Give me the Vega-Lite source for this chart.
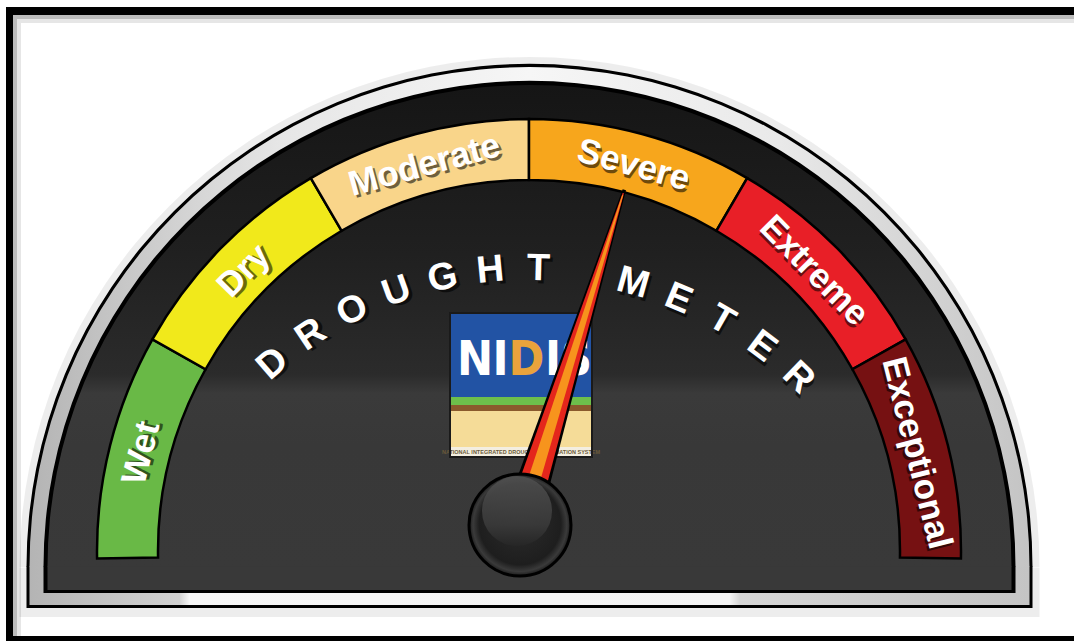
{
  "$schema": "https://vega.github.io/schema/vega-lite/v6.json",
  "width": 1074,
  "height": 641,
  "autosize": {"type": "fit", "contains": "padding"},
  "padding": 0,
  "background": "#ffffff",
  "config": {"view": {"stroke": null}},
  "datasets": {
    "bands": [
      {"category": "Wet", "start": 0, "end": 1, "mid": 0.5},
      {"category": "Dry", "start": 1, "end": 2, "mid": 1.5},
      {"category": "Moderate", "start": 2, "end": 3, "mid": 2.5},
      {"category": "Severe", "start": 3, "end": 4, "mid": 3.5},
      {"category": "Extreme", "start": 4, "end": 5, "mid": 4.5},
      {"category": "Exceptional", "start": 5, "end": 6, "mid": 5.5}
    ],
    "letters": [
      {"ch": "D", "i": 0}, {"ch": "R", "i": 1}, {"ch": "O", "i": 2}, {"ch": "U", "i": 3},
      {"ch": "G", "i": 4}, {"ch": "H", "i": 5}, {"ch": "T", "i": 6},
      {"ch": "M", "i": 8}, {"ch": "E", "i": 9}, {"ch": "T", "i": 10}, {"ch": "E", "i": 11}, {"ch": "R", "i": 12}
    ],
    "needle": [{"reading": 3.57}],
    "one": [{}]
  },
  "resolve": {"scale": {"theta": "independent", "angle": "independent"}},
  "layer": [
    {
      "data": {"name": "one"},
      "mark": {"type": "rect", "fill": "#bcbcbc"},
      "encoding": {
        "x": {"datum": -516, "scale": {"domain": [-529, 545], "nice": false, "zero": false}, "axis": null},
        "x2": {"datum": 545},
        "y": {"datum": 536, "scale": {"domain": [-90, 551], "nice": false, "zero": false}, "axis": null},
        "y2": {"datum": 532}
      }
    },
    {
      "data": {"name": "one"},
      "mark": {"type": "rect", "fill": "#e6e6e6"},
      "encoding": {
        "x": {"datum": -512, "scale": {"domain": [-529, 545], "nice": false, "zero": false}, "axis": null},
        "x2": {"datum": 545},
        "y": {"datum": 532, "scale": {"domain": [-90, 551], "nice": false, "zero": false}, "axis": null},
        "y2": {"datum": 528}
      }
    },
    {
      "data": {"name": "one"},
      "mark": {"type": "rect", "fill": "#bcbcbc"},
      "encoding": {
        "x": {"datum": -516, "scale": {"domain": [-529, 545], "nice": false, "zero": false}, "axis": null},
        "x2": {"datum": -512},
        "y": {"datum": 536, "scale": {"domain": [-90, 551], "nice": false, "zero": false}, "axis": null},
        "y2": {"datum": -85}
      }
    },
    {
      "data": {"name": "one"},
      "mark": {"type": "rect", "fill": "#e6e6e6"},
      "encoding": {
        "x": {"datum": -512, "scale": {"domain": [-529, 545], "nice": false, "zero": false}, "axis": null},
        "x2": {"datum": -508},
        "y": {"datum": 532, "scale": {"domain": [-90, 551], "nice": false, "zero": false}, "axis": null},
        "y2": {"datum": -85}
      }
    },
    {
      "data": {"name": "one"},
      "mark": {"type": "rect", "fill": "#000000"},
      "encoding": {
        "x": {"datum": -523, "scale": {"domain": [-529, 545], "nice": false, "zero": false}, "axis": null},
        "x2": {"datum": 545},
        "y": {"datum": 544, "scale": {"domain": [-90, 551], "nice": false, "zero": false}, "axis": null},
        "y2": {"datum": 536}
      }
    },
    {
      "data": {"name": "one"},
      "mark": {"type": "rect", "fill": "#000000"},
      "encoding": {
        "x": {"datum": -523, "scale": {"domain": [-529, 545], "nice": false, "zero": false}, "axis": null},
        "x2": {"datum": -516},
        "y": {"datum": 544, "scale": {"domain": [-90, 551], "nice": false, "zero": false}, "axis": null},
        "y2": {"datum": -90}
      }
    },
    {
      "data": {"name": "one"},
      "mark": {"type": "rect", "fill": "#000000"},
      "encoding": {
        "x": {"datum": -523, "scale": {"domain": [-529, 545], "nice": false, "zero": false}, "axis": null},
        "x2": {"datum": 545},
        "y": {"datum": -85, "scale": {"domain": [-90, 551], "nice": false, "zero": false}, "axis": null},
        "y2": {"datum": -90}
      }
    },
    {
      "data": {"name": "one"},
      "mark": {"type": "arc", "theta": -1.5708, "theta2": 1.5708, "outerRadius": 510, "innerRadius": 0, "fill": "#000000", "opacity": 0.07},
      "encoding": {
        "x": {"datum": 0.5, "scale": {"domain": [-529, 545], "nice": false, "zero": false}, "axis": null},
        "y": {"datum": -16, "scale": {"domain": [-90, 551], "nice": false, "zero": false}, "axis": null}
      }
    },
    {
      "data": {"name": "one"},
      "mark": {"type": "rect", "fill": "#000000", "opacity": 0.07},
      "encoding": {
        "x": {"datum": -509.5, "scale": {"domain": [-529, 545], "nice": false, "zero": false}, "axis": null},
        "x2": {"datum": 510.5},
        "y": {"datum": -16.5, "scale": {"domain": [-90, 551], "nice": false, "zero": false}, "axis": null},
        "y2": {"datum": -66}
      }
    },
    {
      "data": {"name": "one"},
      "mark": {"type": "arc", "theta": -1.5708, "theta2": 1.5708, "outerRadius": 503, "innerRadius": 0, "fill": "#000000"},
      "encoding": {
        "x": {"datum": 0.5, "scale": {"domain": [-529, 545], "nice": false, "zero": false}, "axis": null},
        "y": {"datum": -16, "scale": {"domain": [-90, 551], "nice": false, "zero": false}, "axis": null}
      }
    },
    {
      "data": {"name": "one"},
      "mark": {"type": "rect", "fill": "#000000"},
      "encoding": {
        "x": {"datum": -502.5, "scale": {"domain": [-529, 545], "nice": false, "zero": false}, "axis": null},
        "x2": {"datum": 503.5},
        "y": {"datum": -15.5, "scale": {"domain": [-90, 551], "nice": false, "zero": false}, "axis": null},
        "y2": {"datum": -57}
      }
    },
    {
      "data": {"name": "one"},
      "mark": {"type": "arc", "theta": -1.5708, "theta2": 1.5708, "outerRadius": 500, "innerRadius": 0,
        "fill": {"gradient": "linear", "x1": 0, "y1": 0, "x2": 1, "y2": 0, "stops": [
          {"offset": 0, "color": "#b4b4b4"}, {"offset": 0.25, "color": "#e6e6e6"}, {"offset": 0.5, "color": "#f6f6f6"},
          {"offset": 0.75, "color": "#e9e9e9"}, {"offset": 1, "color": "#c4c4c4"}]}},
      "encoding": {
        "x": {"datum": 0.5, "scale": {"domain": [-529, 545], "nice": false, "zero": false}, "axis": null},
        "y": {"datum": -16, "scale": {"domain": [-90, 551], "nice": false, "zero": false}, "axis": null}
      }
    },
    {
      "data": {"name": "one"},
      "mark": {"type": "rect",
        "fill": {"gradient": "linear", "x1": 0, "y1": 0, "x2": 1, "y2": 0, "stops": [
          {"offset": 0, "color": "#b4b4b4"}, {"offset": 0.15, "color": "#d2d2d2"}, {"offset": 0.16, "color": "#f7f7f7"},
          {"offset": 0.7, "color": "#f4f4f4"}, {"offset": 0.71, "color": "#d6d6d6"}, {"offset": 1, "color": "#c4c4c4"}]}},
      "encoding": {
        "x": {"datum": -499.5, "scale": {"domain": [-529, 545], "nice": false, "zero": false}, "axis": null},
        "x2": {"datum": 500.5},
        "y": {"datum": -15.5, "scale": {"domain": [-90, 551], "nice": false, "zero": false}, "axis": null},
        "y2": {"datum": -54}
      }
    },
    {
      "data": {"name": "one"},
      "mark": {"type": "arc", "theta": -1.5708, "theta2": 1.5708, "outerRadius": 486, "innerRadius": 0, "fill": "#000000"},
      "encoding": {
        "x": {"datum": 0.5, "scale": {"domain": [-529, 545], "nice": false, "zero": false}, "axis": null},
        "y": {"datum": -16, "scale": {"domain": [-90, 551], "nice": false, "zero": false}, "axis": null}
      }
    },
    {
      "data": {"name": "one"},
      "mark": {"type": "rect", "fill": "#000000"},
      "encoding": {
        "x": {"datum": -485.5, "scale": {"domain": [-529, 545], "nice": false, "zero": false}, "axis": null},
        "x2": {"datum": 486.5},
        "y": {"datum": -15.5, "scale": {"domain": [-90, 551], "nice": false, "zero": false}, "axis": null},
        "y2": {"datum": -42}
      }
    },
    {
      "data": {"name": "one"},
      "mark": {"type": "arc", "theta": -1.5708, "theta2": 1.5708, "outerRadius": 482, "innerRadius": 0,
        "fill": {"gradient": "linear", "x1": 0, "y1": 0, "x2": 0, "y2": 1, "stops": [
          {"offset": 0, "color": "#151515"}, {"offset": 0.35, "color": "#202020"}, {"offset": 0.6, "color": "#2b2b2b"},
          {"offset": 0.64, "color": "#3a3a3a"}, {"offset": 0.75, "color": "#383838"}, {"offset": 1, "color": "#393939"}]}},
      "encoding": {
        "x": {"datum": 0.5, "scale": {"domain": [-529, 545], "nice": false, "zero": false}, "axis": null},
        "y": {"datum": -16, "scale": {"domain": [-90, 551], "nice": false, "zero": false}, "axis": null}
      }
    },
    {
      "data": {"name": "one"},
      "mark": {"type": "rect", "fill": "#393939"},
      "encoding": {
        "x": {"datum": -481.5, "scale": {"domain": [-529, 545], "nice": false, "zero": false}, "axis": null},
        "x2": {"datum": 482.5},
        "y": {"datum": -15.5, "scale": {"domain": [-90, 551], "nice": false, "zero": false}, "axis": null},
        "y2": {"datum": -39}
      }
    },
    {
      "data": {"name": "bands"},
      "mark": {"type": "arc", "outerRadius": 432, "innerRadius": 371, "stroke": "#000000", "strokeWidth": 2.5},
      "encoding": {
        "x": {"datum": 0, "scale": {"domain": [-529, 545], "nice": false, "zero": false}, "axis": null},
        "y": {"datum": 0, "scale": {"domain": [-90, 551], "nice": false, "zero": false}, "axis": null},
        "theta": {"field": "start", "type": "quantitative", "stack": null, "scale": {"domain": [0, 6], "range": [-1.58825, 1.58825], "zero": false, "nice": false}},
        "theta2": {"field": "end"},
        "color": {"field": "category", "type": "nominal", "legend": null,
          "scale": {"domain": ["Wet", "Dry", "Moderate", "Severe", "Extreme", "Exceptional"],
                    "range": ["#69b946", "#f1e91b", "#f9d58a", "#f7a61c", "#e81f27", "#761112"]}}
      }
    },
    {
      "data": {"name": "bands"},
      "mark": {"type": "text", "radius": 400, "font": "Liberation Sans", "fontWeight": "bold", "fontSize": 35,
               "fill": "#000000", "opacity": 0.55, "align": "center", "baseline": "middle", "dx": 2, "dy": 3},
      "encoding": {
        "x": {"datum": 0, "scale": {"domain": [-529, 545], "nice": false, "zero": false}, "axis": null},
        "y": {"datum": 0, "scale": {"domain": [-90, 551], "nice": false, "zero": false}, "axis": null},
        "theta": {"field": "mid", "type": "quantitative", "stack": null, "scale": {"domain": [0, 6], "range": [-1.58825, 1.58825], "zero": false, "nice": false}},
        "angle": {"field": "mid", "type": "quantitative", "scale": {"domain": [0, 6], "range": [-91, 91], "zero": false, "nice": false}},
        "text": {"field": "category"}
      }
    },
    {
      "data": {"name": "bands"},
      "mark": {"type": "text", "radius": 400, "font": "Liberation Sans", "fontWeight": "bold", "fontSize": 35,
               "fill": "#ffffff", "align": "center", "baseline": "middle"},
      "encoding": {
        "x": {"datum": 0, "scale": {"domain": [-529, 545], "nice": false, "zero": false}, "axis": null},
        "y": {"datum": 0, "scale": {"domain": [-90, 551], "nice": false, "zero": false}, "axis": null},
        "theta": {"field": "mid", "type": "quantitative", "stack": null, "scale": {"domain": [0, 6], "range": [-1.58825, 1.58825], "zero": false, "nice": false}},
        "angle": {"field": "mid", "type": "quantitative", "scale": {"domain": [0, 6], "range": [-91, 91], "zero": false, "nice": false}},
        "text": {"field": "category"}
      }
    },
    {
      "data": {"name": "letters"},
      "mark": {"type": "text", "radius": 390, "font": "Liberation Sans", "fontWeight": "bold", "fontSize": 38,
               "fill": "#000000", "opacity": 0.6, "align": "center", "baseline": "middle", "dx": 3, "dy": 3},
      "encoding": {
        "x": {"datum": -1, "scale": {"domain": [-529, 545], "nice": false, "zero": false}, "axis": null},
        "y": {"datum": -108, "scale": {"domain": [-90, 551], "nice": false, "zero": false}, "axis": null},
        "theta": {"field": "i", "type": "quantitative", "stack": null, "scale": {"domain": [0, 12], "range": [-0.71297, 0.76568], "zero": false, "nice": false}},
        "angle": {"field": "i", "type": "quantitative", "scale": {"domain": [0, 12], "range": [-40.85, 43.87], "zero": false, "nice": false}},
        "text": {"field": "ch"}
      }
    },
    {
      "data": {"name": "letters"},
      "mark": {"type": "text", "radius": 390, "font": "Liberation Sans", "fontWeight": "bold", "fontSize": 38,
               "fill": "#ffffff", "align": "center", "baseline": "middle"},
      "encoding": {
        "x": {"datum": -1, "scale": {"domain": [-529, 545], "nice": false, "zero": false}, "axis": null},
        "y": {"datum": -108, "scale": {"domain": [-90, 551], "nice": false, "zero": false}, "axis": null},
        "theta": {"field": "i", "type": "quantitative", "stack": null, "scale": {"domain": [0, 12], "range": [-0.71297, 0.76568], "zero": false, "nice": false}},
        "angle": {"field": "i", "type": "quantitative", "scale": {"domain": [0, 12], "range": [-40.85, 43.87], "zero": false, "nice": false}},
        "text": {"field": "ch"}
      }
    },
    {
      "data": {"name": "one"},
      "mark": {"type": "rect", "fill": "#2253a4"},
      "encoding": {
        "x": {"datum": -79, "scale": {"domain": [-529, 545], "nice": false, "zero": false}, "axis": null},
        "x2": {"datum": 63},
        "y": {"datum": 238, "scale": {"domain": [-90, 551], "nice": false, "zero": false}, "axis": null},
        "y2": {"datum": 153}
      }
    },
    {
      "data": {"name": "one"},
      "mark": {"type": "rect", "fill": "#6dbf4b"},
      "encoding": {
        "x": {"datum": -79, "scale": {"domain": [-529, 545], "nice": false, "zero": false}, "axis": null},
        "x2": {"datum": 63},
        "y": {"datum": 154, "scale": {"domain": [-90, 551], "nice": false, "zero": false}, "axis": null},
        "y2": {"datum": 146}
      }
    },
    {
      "data": {"name": "one"},
      "mark": {"type": "rect", "fill": "#8a5a2c"},
      "encoding": {
        "x": {"datum": -79, "scale": {"domain": [-529, 545], "nice": false, "zero": false}, "axis": null},
        "x2": {"datum": 63},
        "y": {"datum": 146, "scale": {"domain": [-90, 551], "nice": false, "zero": false}, "axis": null},
        "y2": {"datum": 140}
      }
    },
    {
      "data": {"name": "one"},
      "mark": {"type": "rect", "fill": "#f5dc98"},
      "encoding": {
        "x": {"datum": -79, "scale": {"domain": [-529, 545], "nice": false, "zero": false}, "axis": null},
        "x2": {"datum": 63},
        "y": {"datum": 140, "scale": {"domain": [-90, 551], "nice": false, "zero": false}, "axis": null},
        "y2": {"datum": 104}
      }
    },
    {
      "data": {"name": "one"},
      "mark": {"type": "rect", "fill": "#f3eee0"},
      "encoding": {
        "x": {"datum": -79, "scale": {"domain": [-529, 545], "nice": false, "zero": false}, "axis": null},
        "x2": {"datum": 63},
        "y": {"datum": 104, "scale": {"domain": [-90, 551], "nice": false, "zero": false}, "axis": null},
        "y2": {"datum": 94}
      }
    },
    {
      "data": {"name": "one"},
      "mark": {"type": "text", "text": "NATIONAL INTEGRATED DROUGHT INFORMATION SYSTEM", "font": "Liberation Sans", "fontWeight": "bold", "fontSize": 5.5, "fill": "#6b5a3a", "align": "center", "baseline": "middle"},
      "encoding": {
        "x": {"datum": -8, "scale": {"domain": [-529, 545], "nice": false, "zero": false}, "axis": null},
        "y": {"datum": 99, "scale": {"domain": [-90, 551], "nice": false, "zero": false}, "axis": null}
      }
    },
    {
      "data": {"name": "one"},
      "mark": {"type": "rect", "filled": false, "color": "#1a1a1a", "strokeWidth": 2},
      "encoding": {
        "x": {"datum": -79, "scale": {"domain": [-529, 545], "nice": false, "zero": false}, "axis": null},
        "x2": {"datum": 63},
        "y": {"datum": 238, "scale": {"domain": [-90, 551], "nice": false, "zero": false}, "axis": null},
        "y2": {"datum": 94}
      }
    },
    {
      "data": {"name": "one"},
      "mark": {"type": "text", "text": "N", "font": "DejaVu Sans Condensed, sans-serif", "fontWeight": "bold", "fontSize": 48, "fill": "#ffffff", "align": "center", "baseline": "alphabetic"},
      "encoding": {
        "x": {"datum": -54, "scale": {"domain": [-529, 545], "nice": false, "zero": false}, "axis": null},
        "y": {"datum": 176, "scale": {"domain": [-90, 551], "nice": false, "zero": false}, "axis": null}
      }
    },
    {
      "data": {"name": "one"},
      "mark": {"type": "text", "text": "I", "font": "DejaVu Sans Condensed, sans-serif", "fontWeight": "bold", "fontSize": 48, "fill": "#ffffff", "align": "center", "baseline": "alphabetic"},
      "encoding": {
        "x": {"datum": -28.5, "scale": {"domain": [-529, 545], "nice": false, "zero": false}, "axis": null},
        "y": {"datum": 176, "scale": {"domain": [-90, 551], "nice": false, "zero": false}, "axis": null}
      }
    },
    {
      "data": {"name": "one"},
      "mark": {"type": "text", "text": "D", "font": "DejaVu Sans Condensed, sans-serif", "fontWeight": "bold", "fontSize": 48, "fill": "#e9a33c", "align": "center", "baseline": "alphabetic"},
      "encoding": {
        "x": {"datum": -2.5, "scale": {"domain": [-529, 545], "nice": false, "zero": false}, "axis": null},
        "y": {"datum": 176, "scale": {"domain": [-90, 551], "nice": false, "zero": false}, "axis": null}
      }
    },
    {
      "data": {"name": "one"},
      "mark": {"type": "text", "text": "I", "font": "DejaVu Sans Condensed, sans-serif", "fontWeight": "bold", "fontSize": 48, "fill": "#ffffff", "align": "center", "baseline": "alphabetic"},
      "encoding": {
        "x": {"datum": 24, "scale": {"domain": [-529, 545], "nice": false, "zero": false}, "axis": null},
        "y": {"datum": 176, "scale": {"domain": [-90, 551], "nice": false, "zero": false}, "axis": null}
      }
    },
    {
      "data": {"name": "one"},
      "mark": {"type": "text", "text": "S", "font": "DejaVu Sans Condensed, sans-serif", "fontWeight": "bold", "fontSize": 48, "fill": "#ffffff", "align": "center", "baseline": "alphabetic"},
      "encoding": {
        "x": {"datum": 47.5, "scale": {"domain": [-529, 545], "nice": false, "zero": false}, "axis": null},
        "y": {"datum": 176, "scale": {"domain": [-90, 551], "nice": false, "zero": false}, "axis": null}
      }
    },
    {
      "data": {"name": "needle"},
      "mark": {"type": "point", "shape": "M -0.054 0 L -0.005 -1.006 L 0.005 -1.006 L 0.054 0 Z", "size": 487204, "filled": true, "fill": "#000000", "opacity": 1, "strokeWidth": 0},
      "encoding": {
        "x": {"datum": -9, "scale": {"domain": [-529, 545], "nice": false, "zero": false}, "axis": null},
        "y": {"datum": 26, "scale": {"domain": [-90, 551], "nice": false, "zero": false}, "axis": null},
        "angle": {"field": "reading", "type": "quantitative", "scale": {"domain": [0, 6], "range": [-91, 91], "zero": false, "nice": false}}
      }
    },
    {
      "data": {"name": "needle"},
      "mark": {"type": "point", "shape": "M -0.045 0 L -0.002 -0.996 L 0.002 -0.996 L 0.045 0 Z", "size": 487204, "filled": true, "fill": "#e4261c", "opacity": 1, "strokeWidth": 0},
      "encoding": {
        "x": {"datum": -9, "scale": {"domain": [-529, 545], "nice": false, "zero": false}, "axis": null},
        "y": {"datum": 26, "scale": {"domain": [-90, 551], "nice": false, "zero": false}, "axis": null},
        "angle": {"field": "reading", "type": "quantitative", "scale": {"domain": [0, 6], "range": [-91, 91], "zero": false, "nice": false}}
      }
    },
    {
      "data": {"name": "needle"},
      "mark": {"type": "point", "shape": "M -0.02 0 L -0.0015 -0.99 L 0.0015 -0.99 L 0.02 0 Z", "size": 487204, "filled": true, "fill": "#f7941d", "opacity": 1, "strokeWidth": 0},
      "encoding": {
        "x": {"datum": -9, "scale": {"domain": [-529, 545], "nice": false, "zero": false}, "axis": null},
        "y": {"datum": 26, "scale": {"domain": [-90, 551], "nice": false, "zero": false}, "axis": null},
        "angle": {"field": "reading", "type": "quantitative", "scale": {"domain": [0, 6], "range": [-91, 91], "zero": false, "nice": false}}
      }
    },
    {
      "data": {"name": "one"},
      "mark": {"type": "point", "shape": "circle", "size": 10404, "filled": true, "opacity": 1,
        "fill": {"gradient": "radial", "x1": 0.5, "y1": 0.45, "r1": 0, "x2": 0.5, "y2": 0.5, "r2": 0.5, "stops": [
          {"offset": 0, "color": "#2c2c2c"}, {"offset": 0.8, "color": "#1e1e1e"}, {"offset": 0.92, "color": "#3a3a3a"}, {"offset": 1, "color": "#1a1a1a"}]},
        "stroke": "#000000", "strokeWidth": 3},
      "encoding": {
        "x": {"datum": -9, "scale": {"domain": [-529, 545], "nice": false, "zero": false}, "axis": null},
        "y": {"datum": 26, "scale": {"domain": [-90, 551], "nice": false, "zero": false}, "axis": null}
      }
    },
    {
      "data": {"name": "one"},
      "mark": {"type": "point", "shape": "circle", "size": 4900, "filled": true, "opacity": 0.9, "strokeWidth": 0,
        "fill": {"gradient": "linear", "x1": 0, "y1": 0, "x2": 0, "y2": 1, "stops": [
          {"offset": 0, "color": "#505050"}, {"offset": 0.7, "color": "#3a3a3a"}, {"offset": 1, "color": "#262626"}]}},
      "encoding": {
        "x": {"datum": -12, "scale": {"domain": [-529, 545], "nice": false, "zero": false}, "axis": null},
        "y": {"datum": 40, "scale": {"domain": [-90, 551], "nice": false, "zero": false}, "axis": null}
      }
    }
  ]
}
